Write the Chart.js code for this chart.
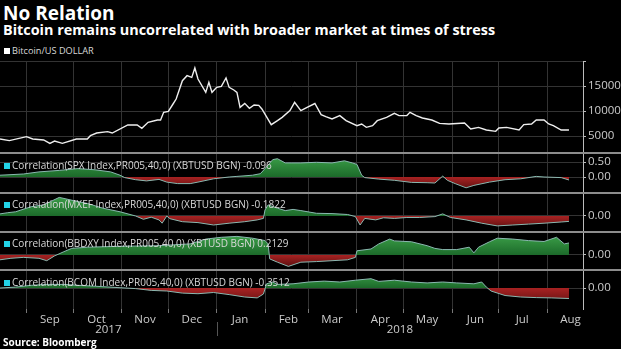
<!DOCTYPE html>
<html>
<head>
  <title>No Relation</title>
  <script src="https://cdn.jsdelivr.net/npm/chart.js"></script>
  <style>
    body {
      margin: 0;
      background: #000;
      font-family: "Open Sans", Arial, sans-serif;
      color: #ddd;
    }
    #wrap { position: relative; width: 621px; height: 349px; overflow: hidden; background: #000; }
    canvas { position: absolute; left: 0; }
    .txt { position: absolute; white-space: nowrap; }
    .title { left: 3px; top: 0px; font-size: 19px; font-weight: 700; color: #fff; }
    .subtitle { left: 3px; top: 20px; font-size: 14.4px; font-weight: 700; color: #fff; }
    .lg { left: 4px; font-size: 10px; color: #d8d8d8; line-height: 12px; }
    .lg i { display: inline-block; width: 6px; height: 6px; margin-right: 2px; vertical-align: 0px; }
    .sep { position: absolute; left: 0; width: 621px; height: 2px; background: #8c8c8c; z-index: 2; }
    .source { left: 3px; top: 335px; font-size: 10px; font-weight: 700; color: #fff; }
  </style>
</head>
<body>
<div id="wrap">
  <div class="txt title">No Relation</div>
  <div class="txt subtitle">Bitcoin remains uncorrelated with broader market at times of stress</div>
  <div class="txt lg" style="top:45px;font-size:9.2px"><i style="background:#fff"></i>Bitcoin/US DOLLAR</div>

  <canvas id="price" width="621" height="91" style="top:61px"></canvas>
  <canvas id="spx" width="621" height="38" style="top:154px"></canvas>
  <canvas id="mxef" width="621" height="37" style="top:194px"></canvas>
  <canvas id="bbdxy" width="621" height="36" style="top:233px"></canvas>
  <canvas id="bcom" width="621" height="78" style="top:271px"></canvas>

  <div class="sep" style="top:152px"></div>
  <div class="sep" style="top:192px"></div>
  <div class="sep" style="top:231px"></div>
  <div class="sep" style="top:269px"></div>

  <div class="txt lg" style="top:159px;z-index:3"><i style="background:#22d3e6"></i>Correlation(SPX Index,PR005,40,0) (XBTUSD BGN) -0.096</div>
  <div class="txt lg" style="top:198px;z-index:3"><i style="background:#22d3e6"></i>Correlation(MXEF Index,PR005,40,0) (XBTUSD BGN) -0.1822</div>
  <div class="txt lg" style="top:237px;z-index:3"><i style="background:#22d3e6"></i>Correlation(BBDXY Index,PR005,40,0) (XBTUSD BGN) 0.2129</div>
  <div class="txt lg" style="top:276px;z-index:3"><i style="background:#22d3e6"></i>Correlation(BCOM Index,PR005,40,0) (XBTUSD BGN) -0.3512</div>

  <div class="txt source">Source: Bloomberg</div>
</div>
<script>
  // ---- data ----
  const priceDates = ['2017-08-15','2017-08-21','2017-09-01','2017-09-05','2017-09-12','2017-09-16','2017-09-19','2017-09-24',
    '2017-10-03','2017-10-10','2017-10-12','2017-10-16','2017-10-23','2017-10-26','2017-11-05','2017-11-11','2017-11-14',
    '2017-11-18','2017-11-24','2017-11-26','2017-11-28','2017-12-01','2017-12-04','2017-12-06','2017-12-10','2017-12-13',
    '2017-12-16','2017-12-18','2017-12-20','2017-12-25','2017-12-27','2017-12-29','2018-01-01','2018-01-04','2018-01-07',
    '2018-01-09','2018-01-12','2018-01-14','2018-01-16','2018-01-19','2018-01-22','2018-01-25','2018-01-28','2018-01-30',
    '2018-02-05','2018-02-09','2018-02-12','2018-02-17','2018-02-20','2018-02-24','2018-02-28','2018-03-05','2018-03-09',
    '2018-03-12','2018-03-16','2018-03-21','2018-03-25','2018-04-01','2018-04-04','2018-04-07','2018-04-11','2018-04-14',
    '2018-04-20','2018-04-25','2018-04-28','2018-05-03','2018-05-05','2018-05-09','2018-05-13','2018-05-19','2018-05-24',
    '2018-05-30','2018-06-09','2018-06-13','2018-06-18','2018-06-23','2018-06-29','2018-07-01','2018-07-06','2018-07-14',
    '2018-07-17','2018-07-22','2018-07-25','2018-07-30','2018-08-02','2018-08-05','2018-08-10','2018-08-15'];
  const priceValues = [4400,4070,4870,4400,4200,3530,4000,3530,
    4400,4400,5070,5600,5870,5600,7200,7200,6530,
    7730,8200,8200,9730,9930,11400,12400,16070,17070,
    16730,18600,16400,13730,15730,13730,14730,14930,16600,
    14730,14200,13730,10730,11530,10530,11200,11130,10400,
    7270,8070,8730,10070,11730,10070,10730,11500,9270,
    8870,8400,9070,8070,7070,7400,6730,7070,8070,
    8730,9530,9070,9100,9730,9070,8600,8200,7530,
    7400,7600,6400,6730,6200,5930,6600,6730,6200,
    7270,7400,8200,8200,7400,7070,6200,6200];

  const spxDates = ['2017-08-15','2017-08-30','2017-09-09','2017-09-22','2017-10-04','2017-10-15','2017-10-25','2017-10-31',
    '2017-11-03','2017-11-10','2017-11-17','2017-11-25','2017-11-30','2017-12-07','2017-12-15','2017-12-20','2017-12-30',
    '2018-01-09','2018-01-14','2018-01-24','2018-01-29','2018-02-01','2018-02-06','2018-02-09','2018-02-14','2018-02-24',
    '2018-03-06','2018-03-16','2018-03-24','2018-03-29','2018-04-01','2018-04-04','2018-04-06','2018-04-15','2018-04-25',
    '2018-05-06','2018-05-16','2018-05-21','2018-05-26','2018-05-29','2018-06-03','2018-06-10','2018-06-15','2018-06-25',
    '2018-07-05','2018-07-15','2018-07-25','2018-07-30','2018-08-10','2018-08-15'];
  const spxValues = [0.06,0.10,0.17,0.22,0.28,0.24,0.17,0.06,
    -0.02,-0.09,-0.13,-0.08,-0.17,-0.22,-0.22,-0.17,-0.06,
    0.00,0.02,0.06,0.11,0.28,0.58,0.61,0.47,0.47,
    0.49,0.47,0.54,0.47,0.42,0.06,-0.02,-0.07,-0.11,
    -0.18,-0.19,-0.20,0.03,-0.11,-0.22,-0.36,-0.28,-0.17,
    -0.09,-0.06,0.02,0.00,-0.02,-0.10];

  const mxefDates = ['2017-08-15','2017-08-20','2017-08-25','2017-09-04','2017-09-12','2017-09-22','2017-10-04','2017-10-10',
    '2017-10-20','2017-10-31','2017-11-10','2017-11-15','2017-11-20','2017-11-25','2017-11-27','2017-11-30','2017-12-02',
    '2017-12-10','2017-12-20','2017-12-30','2018-01-09','2018-01-19','2018-01-27','2018-01-31','2018-02-01','2018-02-03',
    '2018-02-09','2018-02-14','2018-02-19','2018-02-24','2018-03-06','2018-03-16','2018-03-26','2018-03-31','2018-04-03',
    '2018-04-06','2018-04-13','2018-04-18','2018-04-25','2018-05-03','2018-05-11','2018-05-21','2018-05-26','2018-05-31',
    '2018-06-10','2018-06-20','2018-06-30','2018-07-10','2018-07-20','2018-07-30','2018-08-10','2018-08-15'];
  const mxefValues = [0.07,0.11,0.14,0.31,0.37,0.62,0.48,0.42,
    0.26,0.14,0.00,-0.11,-0.04,-0.13,-0.24,0.00,-0.09,
    -0.19,-0.22,-0.30,-0.24,-0.19,-0.13,-0.08,0.20,0.37,
    0.26,0.18,0.22,0.18,0.09,0.08,0.05,-0.02,-0.30,
    -0.08,-0.13,-0.06,-0.08,-0.05,-0.05,-0.02,0.07,-0.05,
    -0.13,-0.24,-0.33,-0.30,-0.27,-0.24,-0.20,-0.18];

  const bbdxyDates = ['2017-08-15','2017-08-22','2017-08-30','2017-09-09','2017-09-14','2017-09-19','2017-09-25','2017-09-30',
    '2017-10-10','2017-10-31','2017-11-25','2017-12-15','2017-12-25','2018-01-04','2018-01-14','2018-01-24','2018-02-01',
    '2018-02-03','2018-02-04','2018-02-09','2018-02-16','2018-02-24','2018-03-06','2018-03-16','2018-03-26','2018-03-31',
    '2018-04-01','2018-04-10','2018-04-15','2018-04-22','2018-04-25','2018-05-06','2018-05-16','2018-05-21','2018-05-26',
    '2018-06-04','2018-06-12','2018-06-15','2018-06-18','2018-06-25','2018-06-30','2018-07-10','2018-07-20','2018-07-30',
    '2018-08-07','2018-08-12','2018-08-15'];
  const bbdxyValues = [-0.16,-0.11,-0.08,-0.11,-0.19,-0.03,0.11,0.22,
    0.26,0.29,0.31,0.37,0.53,0.59,0.62,0.56,0.48,
    0.37,-0.13,-0.24,-0.38,-0.24,-0.22,-0.19,-0.16,-0.08,
    0.14,0.20,0.37,0.53,0.47,0.44,0.31,0.22,0.18,
    0.18,0.26,0.07,0.26,0.44,0.56,0.53,0.48,0.45,
    0.59,0.37,0.40];

  const bcomDates = ['2017-08-15','2017-08-25','2017-09-04','2017-09-14','2017-09-25','2017-10-04','2017-10-15','2017-10-31',
    '2017-11-10','2017-11-20','2017-11-30','2017-12-10','2017-12-20','2017-12-30','2018-01-09','2018-01-19','2018-01-27',
    '2018-01-31','2018-02-02','2018-02-06','2018-02-09','2018-02-19','2018-03-01','2018-03-11','2018-03-21','2018-03-31',
    '2018-04-10','2018-04-15','2018-04-25','2018-05-06','2018-05-16','2018-05-26','2018-06-04','2018-06-15','2018-06-20',
    '2018-06-23','2018-06-26','2018-07-05','2018-07-15','2018-07-25','2018-08-04','2018-08-15'];
  const bcomValues = [0.00,0.03,0.09,0.12,0.12,0.09,0.06,0.01,
    -0.02,-0.08,-0.10,-0.17,-0.19,-0.15,-0.22,-0.30,-0.33,
    -0.20,0.14,0.20,0.12,0.14,0.20,0.23,0.20,0.26,
    0.31,0.22,0.26,0.20,0.17,0.20,0.17,0.14,0.20,
    0.03,-0.10,-0.25,-0.30,-0.32,-0.33,-0.35];

  const monthStarts = ['2017-09-01','2017-10-01','2017-11-01','2017-12-01','2018-01-01','2018-02-01',
    '2018-03-01','2018-04-01','2018-05-01','2018-06-01','2018-07-01','2018-08-01'];
  const monthLabels = ['Sep','Oct','Nov','Dec','Jan','Feb','Mar','Apr','May','Jun','Jul','Aug'];
  const yearLabels = ['2017', '2018'];
  const yearStart = '2018-01-01';
  const xStart = '2017-08-15';
  const xEnd = '2018-08-24';

  // ---- helpers ----
  const toDay = s => Date.parse(s) / 864e5;
  const X_MIN = toDay(xStart), X_MAX = toDay(xEnd);
  const startDays = monthStarts.map(toDay);
  const midDays = startDays.map(d => d + 15);
  const tickDays = startDays.concat(midDays).sort((a, b) => a - b);
  const isStart = v => startDays.includes(v);

  const GRID = '#333';
  const AXIS = '#bbb';
  const FONT = { family: '"Open Sans", Arial, sans-serif', size: 11.5 };

  function points(dates, values) {
    return dates.map((d, i) => ({ x: toDay(d), y: values[i] }));
  }

  function xScale(showLabels) {
    return {
      type: 'linear',
      min: X_MIN,
      max: X_MAX,
      afterBuildTicks: s => { s.ticks = tickDays.map(v => ({ value: v })); },
      afterFit: s => {
        s.paddingLeft = 0; s.paddingRight = 0;
        s.height = showLabels ? 40 : 0;
      },
      border: { display: false },
      grid: {
        color: c => isStart(c.tick.value) ? GRID : 'rgba(0,0,0,0)',
        tickColor: c => isStart(c.tick.value) ? '#777' : 'rgba(0,0,0,0)',
        drawTicks: showLabels,
        tickLength: 4
      },
      ticks: {
        display: showLabels,
        autoSkip: false,
        maxRotation: 0,
        padding: 0,
        color: '#ccc',
        font: FONT,
        callback: v => {
          const i = midDays.indexOf(v);
          return i >= 0 ? monthLabels[i] : '';
        }
      }
    };
  }

  function yScale(min, max, tickVals, fmt) {
    return {
      position: 'right',
      min: min,
      max: max,
      afterBuildTicks: s => { s.ticks = tickVals.map(v => ({ value: v })); },
      afterFit: s => { s.width = 38; s.paddingTop = 0; s.paddingBottom = 0; },
      border: { display: true, color: AXIS, width: 1 },
      grid: { color: GRID, tickColor: AXIS, tickLength: 3 },
      ticks: { color: '#ccc', font: FONT, padding: 2, callback: fmt }
    };
  }

  const baseOptions = {
    responsive: false,
    animation: false,
    events: [],
    layout: { padding: 0 },
    plugins: { legend: { display: false }, tooltip: { enabled: false } }
  };

  // year row under the month labels
  const yearPlugin = {
    id: 'years',
    afterDraw(chart) {
      const x = chart.scales.x;
      const ctx = chart.ctx;
      const split = x.getPixelForValue(toDay(yearStart));
      const spans = [[x.left, split], [split, x.right]];
      ctx.save();
      ctx.fillStyle = '#ccc';
      ctx.font = FONT.size + 'px ' + FONT.family;
      ctx.textAlign = 'center';
      ctx.textBaseline = 'middle';
      yearLabels.forEach((t, i) => ctx.fillText(t, (spans[i][0] + spans[i][1]) / 2, chart.chartArea.bottom + 21));
      ctx.strokeStyle = '#555';
      ctx.lineWidth = 1;
      ctx.beginPath();
      ctx.moveTo(Math.round(split) + 0.5, chart.chartArea.bottom + 13);
      ctx.lineTo(Math.round(split) + 0.5, chart.chartArea.bottom + 27);
      ctx.stroke();
      ctx.restore();
    }
  };

  // ---- price panel ----
  new Chart(document.getElementById('price'), {
    type: 'line',
    data: {
      datasets: [{
        data: points(priceDates, priceValues),
        borderColor: '#eeeeee',
        borderWidth: 1.4,
        pointRadius: 0,
        fill: false
      }]
    },
    options: Object.assign({}, baseOptions, {
      scales: {
        x: xScale(false),
        y: yScale(1800, 20000, [5000, 10000, 15000, 20000], v => v === 20000 ? '' : String(v))
      }
    })
  });

  // ---- correlation panels ----
  function corrChart(id, dates, values, min, max, tickVals, showX) {
    const canvas = document.getElementById(id);
    const ctx = canvas.getContext('2d');
    const areaH = canvas.height - (showX ? 40 : 0);
    const zero = areaH * max / (max - min);
    const green = ctx.createLinearGradient(0, 0, 0, zero);
    green.addColorStop(0, '#3fa54c');
    green.addColorStop(1, '#1c6a2a');
    const red = ctx.createLinearGradient(0, zero, 0, areaH);
    red.addColorStop(0, '#a82222');
    red.addColorStop(1, '#4a0c0c');
    return new Chart(canvas, {
      type: 'line',
      data: {
        datasets: [{
          data: points(dates, values),
          borderColor: '#8ab8b0',
          borderWidth: 1,
          pointRadius: 0,
          fill: { target: { value: 0 }, above: green, below: red }
        }]
      },
      options: Object.assign({}, baseOptions, {
        scales: {
          x: xScale(showX),
          y: yScale(min, max, tickVals, v => v.toFixed(2))
        }
      }),
      plugins: showX ? [yearPlugin] : []
    });
  }

  corrChart('spx', spxDates, spxValues, -0.5, 0.767, [0, 0.5], false);
  corrChart('mxef', mxefDates, mxefValues, -0.5, 0.733, [0], false);
  corrChart('bbdxy', bbdxyDates, bbdxyValues, -0.467, 0.733, [0], false);
  corrChart('bcom', bcomDates, bcomValues, -0.7, 0.567, [0], true);
</script>
</body>
</html>
